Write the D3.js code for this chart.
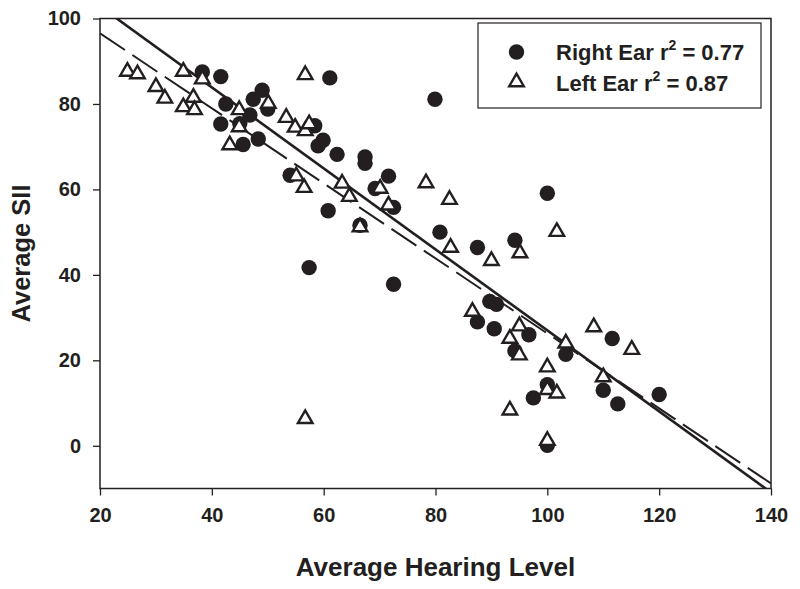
<!DOCTYPE html>
<html><head><meta charset="utf-8">
<script src="https://cdn.jsdelivr.net/npm/d3@7"></script>
<style>body{margin:0;background:#fff}svg{display:block}text{font-family:"Liberation Sans",Arial,sans-serif;font-weight:bold;fill:#231f20}</style>
</head><body><svg id="c" width="800" height="589"></svg>
<script>
// Right ear: [Average Hearing Level, Average SII]
const rightEar = [[38.3,87.5],[41.6,86.4],[42.5,80.0],[41.6,75.3],[45.0,75.4],[46.8,77.4],[47.4,81.1],[49.0,83.2],[50.0,78.8],[48.3,71.8],[45.6,70.5],[58.4,74.9],[59.9,71.5],[59.0,70.2],[61.1,86.1],[62.4,68.2],[54.0,63.3],[60.8,55.0],[57.4,41.7],[67.4,67.6],[67.4,66.1],[71.6,63.1],[69.2,60.2],[72.5,55.8],[66.5,51.6],[72.5,37.8],[79.9,81.1],[80.8,50.0],[87.5,46.4],[94.2,48.1],[100,59.1],[89.7,33.8],[90.9,33.1],[87.5,29.0],[90.5,27.4],[96.7,26.0],[94.2,22.2],[103.3,21.4],[100,14.3],[97.5,11.2],[100,0.1],[110,13.0],[112.6,9.8],[111.6,25.1],[120,12.0]];
// Left ear
const leftEar = [[24.9,87.6],[26.7,87.0],[30.0,84.0],[31.6,81.3],[34.9,87.6],[34.9,79.3],[36.7,81.5],[36.9,78.6],[38.3,85.8],[43.2,70.4],[44.9,78.6],[44.9,74.6],[50.1,80.1],[53.3,76.8],[54.9,74.5],[56.7,73.7],[57.4,75.3],[56.7,86.8],[55.1,63.1],[56.5,60.4],[63.3,61.4],[64.6,58.3],[70.1,60.2],[71.6,56.3],[66.5,51.2],[78.3,61.5],[82.5,57.6],[82.7,46.4],[90.0,43.3],[95.1,45.1],[101.7,50.1],[86.6,31.4],[95.0,28.0],[93.3,25.1],[95.0,21.2],[103.3,24.0],[100.0,18.4],[100.0,13.1],[101.7,12.3],[93.3,8.3],[100.0,1.2],[108.3,27.8],[115.1,22.5],[110.0,16.1],[56.7,6.3]];
// Regression fits [intercept, slope]
const rightFit = [121.8, -0.948];
const leftFit = [114.1, -0.878];
const xTicks = [20,40,60,80,100,120,140];
const yTicks = [0,20,40,60,80,100];
const legendLabels = [["Right Ear r","2"," = 0.77"],["Left Ear r","2"," = 0.87"]];
const xTitle = "Average Hearing Level", yTitle = "Average SII";

const svg = d3.select("#c");
const L=100,R=771,T=18.5,B=488.5;
const x = d3.scaleLinear().domain([20,140]).range([L,R]);
const y = d3.scaleLinear().domain([-10,100]).range([B,T]);
const ink = "#231f20";

svg.append("defs").append("clipPath").attr("id","clip").append("rect")
  .attr("x",L).attr("y",T).attr("width",R-L).attr("height",B-T);

// axes
const xa = svg.append("g").attr("transform",`translate(0,${B})`)
  .call(d3.axisBottom(x).tickValues(xTicks).tickSize(7).tickPadding(12));
const ya = svg.append("g").attr("transform",`translate(${L},0)`)
  .call(d3.axisLeft(y).tickValues(yTicks).tickSize(7).tickPadding(12));
[xa,ya].forEach(g=>{
  g.select(".domain").remove();
  g.selectAll("line").attr("stroke",ink).attr("stroke-width",1.3);
  g.selectAll("text").style("font-size","20px").attr("fill",ink);
});
svg.append("rect").attr("x",L).attr("y",T).attr("width",R-L).attr("height",B-T)
  .attr("fill","none").attr("stroke",ink).attr("stroke-width",1.5);

// titles
svg.append("text").attr("x",(L+R)/2).attr("y",576).attr("text-anchor","middle")
  .style("font-size","26px").text(xTitle);
svg.append("text").attr("transform",`translate(30,${(T+B)/2}) rotate(-90)`).attr("text-anchor","middle")
  .style("font-size","25.5px").text(yTitle);

// fit lines
const plot = svg.append("g").attr("clip-path","url(#clip)");
const fitLine = f => d3.line().x(d=>x(d)).y(d=>y(f[0]+f[1]*d))([20,140]);
plot.append("path").attr("d",fitLine(rightFit)).attr("stroke",ink).attr("stroke-width",2.6).attr("fill","none");
plot.append("path").attr("d",fitLine(leftFit)).attr("stroke",ink).attr("stroke-width",2).attr("fill","none")
  .attr("stroke-dasharray","30,9");

// points
const tri = d3.symbol().type(d3.symbolTriangle).size(92);
svg.append("g").selectAll("circle").data(rightEar).join("circle")
  .attr("cx",d=>x(d[0])).attr("cy",d=>y(d[1])).attr("r",7.7).attr("fill",ink);
svg.append("g").selectAll("path").data(leftEar).join("path")
  .attr("d",tri).attr("transform",d=>`translate(${x(d[0])},${y(d[1])})`)
  .attr("fill","#fff").attr("stroke",ink).attr("stroke-width",2.4);

// legend
const lg = svg.append("g");
lg.append("rect").attr("x",478).attr("y",23).attr("width",283).attr("height",85)
  .attr("fill","#fff").attr("stroke",ink).attr("stroke-width",1.2);
lg.append("circle").attr("cx",516.5).attr("cy",52).attr("r",7.7).attr("fill",ink);
lg.append("path").attr("d",tri).attr("transform","translate(516.5,82)")
  .attr("fill","#fff").attr("stroke",ink).attr("stroke-width",2.4);
legendLabels.forEach((l,i)=>{
  const t = lg.append("text").attr("x",556).attr("y",60+i*31).style("font-size","22px");
  t.append("tspan").text(l[0]);
  t.append("tspan").attr("dy",-10).style("font-size","14px").text(l[1]);
  t.append("tspan").attr("dy",10).text(l[2]);
});
</script></body></html>
